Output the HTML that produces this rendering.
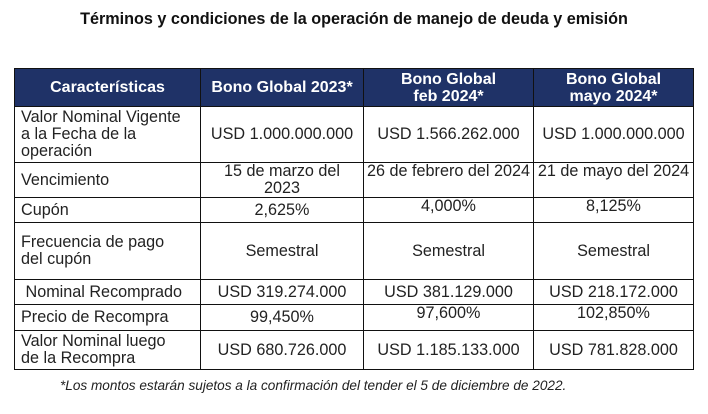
<!DOCTYPE html>
<html><head><meta charset="utf-8"><style>
body{margin:0;width:708px;height:414px;background:#fff;font-family:"Liberation Sans",Arial,sans-serif;position:relative;overflow:hidden}
h1{position:absolute;left:0;width:708px;top:10px;margin:0;text-align:center;font-size:16.2px;font-weight:bold;color:#111}
table{position:absolute;left:14px;top:68px;border-collapse:collapse;table-layout:fixed}
td,th{border:1.5px solid #111;padding:0 3px;font-size:16.2px;color:#222;text-align:center;line-height:17px;overflow:hidden}
th{background:#1f3267;color:#fff;font-weight:bold;font-size:16px;line-height:17px}
td.l{text-align:left;padding-left:6px}
.foot{position:absolute;left:60px;top:378px;font-size:13.6px;font-style:italic;color:#222}
</style></head><body>
<h1>Términos y condiciones de la operación de manejo de deuda y emisión</h1>
<table>
<colgroup><col style="width:186px"><col style="width:163px"><col style="width:170px"><col style="width:160px"></colgroup>
<tr style="height:38px"><th>Características</th><th>Bono Global 2023*</th><th>Bono Global<br>feb 2024*</th><th>Bono Global<br>mayo 2024*</th></tr>
<tr style="height:56px"><td class="l">Valor Nominal Vigente<br>a la Fecha de la<br>operación</td><td>USD 1.000.000.000</td><td>USD 1.566.262.000</td><td>USD 1.000.000.000</td></tr>
<tr style="height:27px"><td class="l">Vencimiento</td><td>15 de marzo del 2023</td><td style="vertical-align:top">26 de febrero del 2024</td><td style="vertical-align:top">21 de mayo del 2024</td></tr>
<tr style="height:25px"><td class="l">Cupón</td><td>2,625%</td><td style="vertical-align:top">4,000%</td><td style="vertical-align:top">8,125%</td></tr>
<tr style="height:57px"><td class="l">Frecuencia de pago<br>del cupón</td><td>Semestral</td><td>Semestral</td><td>Semestral</td></tr>
<tr style="height:25px"><td class="l">&nbsp;Nominal Recomprado</td><td>USD 319.274.000</td><td>USD 381.129.000</td><td>USD 218.172.000</td></tr>
<tr style="height:26px"><td class="l">Precio de Recompra</td><td>99,450%</td><td style="vertical-align:top">97,600%</td><td style="vertical-align:top">102,850%</td></tr>
<tr style="height:39px"><td class="l">Valor Nominal luego<br>de la Recompra</td><td>USD 680.726.000</td><td>USD 1.185.133.000</td><td>USD 781.828.000</td></tr>
</table>
<div class="foot">*Los montos estarán sujetos a la confirmación del tender el 5 de diciembre de 2022.</div>
</body></html>
